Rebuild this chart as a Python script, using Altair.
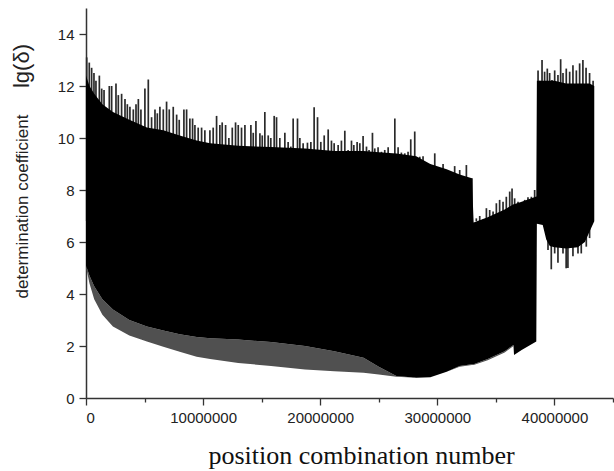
import altair as alt
import pandas as pd

# ---- envelope of the dense trace (x in millions) ----
env_x = [0.0, 0.3, 0.7, 1.4, 2.3, 3.7, 5.2, 6.6, 8.0, 9.45, 10.6, 13.0, 15.8, 18.7, 21.2,
         23.7, 25.0, 26.5, 28.2, 29.4, 30.8, 31.9, 32.95, 33.1, 34.3, 35.75, 36.5, 36.55,
         37.2, 38.45, 38.5, 39.0, 39.3, 39.6, 40.0, 41.0, 42.0, 42.6, 43.0, 43.4]
solid_top = [12.4, 12.0, 11.7, 11.3, 11.0, 10.7, 10.4, 10.3, 10.1, 9.9, 9.8, 9.7, 9.65, 9.6, 9.5,
             9.5, 9.45, 9.4, 9.3, 9.0, 8.8, 8.6, 8.45, 6.75, 6.95, 7.25, 7.45, 7.45,
             7.55, 7.75, 12.2, 12.2, 12.2, 12.2, 12.2, 12.1, 12.1, 12.1, 12.1, 12.0]
solid_bot = [5.1, 4.7, 4.3, 3.8, 3.4, 3.0, 2.75, 2.6, 2.45, 2.35, 2.3, 2.25, 2.15, 2.0, 1.8,
             1.55, 1.2, 0.85, 0.78, 0.8, 1.01, 1.23, 1.3, 1.3, 1.5, 1.8, 2.04, 1.65,
             1.85, 2.17, 6.7, 6.65, 6.1, 5.85, 5.8, 5.75, 5.8, 6.0, 6.4, 6.8]
low_env = [5.05, 4.4, 3.8, 3.2, 2.75, 2.4, 2.17, 1.97, 1.78, 1.59, 1.5, 1.35, 1.23, 1.1, 1.03,
           0.97, 0.9, 0.82, 0.78, 0.8, 1.01, 1.2, 1.27, 1.27, 1.45, 1.75, 2.0, 1.65,
           1.85, 2.17, 6.7, 6.65, 6.1, 5.85, 5.8, 5.75, 5.8, 6.0, 6.4, 6.8]

# ---- upper spikes (x in millions, peak value) ----
spike_x = [0.06, 0.28, 0.48, 0.68, 0.85, 1.14, 1.34, 1.54, 1.99, 2.19, 2.56, 2.76, 3.04, 3.33,
           3.53, 3.75, 4.04, 4.27, 4.47, 4.69, 5.03, 5.32, 5.60, 5.89, 6.09, 6.31, 6.60, 6.88,
           7.11, 7.45, 7.74, 7.96, 8.36, 8.59, 8.87, 9.10, 9.30, 9.58, 9.87, 10.15,
           10.58, 10.86, 11.15, 11.43, 11.63, 11.92, 12.20, 12.49, 12.77, 13.00, 13.28, 13.57,
           14.08, 14.28, 14.51, 14.85, 15.05, 15.27, 15.56, 15.78, 16.07, 16.27, 16.55, 16.98,
           17.26, 17.49, 17.69, 18.06, 18.26, 18.54, 18.91, 19.20, 19.48, 19.77, 20.05, 20.34,
           20.68, 20.96, 21.19,
           21.53, 21.81, 22.10, 22.38, 22.67, 22.87, 23.15, 23.38, 23.66, 23.95, 24.17, 24.46,
           24.66, 24.94, 25.23, 25.51, 25.80, 26.08, 26.37, 26.65, 26.93, 27.22, 27.50, 27.73,
           28.07, 28.30, 28.50, 28.78, 29.07, 29.35, 29.78, 30.06, 30.49, 30.77, 31.06, 31.48,
           31.77, 31.91, 32.20, 32.48, 32.76, 32.96,
           33.33, 33.62, 33.90, 34.19, 34.47, 34.76, 35.04, 35.32, 35.61, 35.89, 36.18, 36.38,
           36.60, 36.89, 37.17, 37.46, 37.74, 38.03, 38.31,
           38.60, 38.74, 38.94, 39.16, 39.39, 39.59, 39.79, 40.02, 40.30, 40.53, 40.73, 41.01,
           41.30, 41.58, 41.87, 42.15, 42.43, 42.70, 43.00, 43.30]
spike_top = [13.1, 12.9, 12.7, 12.5, 12.2, 12.4, 11.9, 11.85, 12.0, 12.0, 12.1, 11.65, 11.7, 11.5,
             11.3, 11.2, 11.1, 11.3, 11.5, 11.1, 11.9, 12.25, 10.8, 11.1, 10.95, 11.2, 11.1, 11.4,
             11.1, 11.2, 10.9, 10.7, 11.1, 11.1, 10.75, 10.75, 10.5, 10.4, 10.4, 10.3,
             10.3, 10.4, 10.85, 10.5, 10.6, 10.5, 10.0, 10.4, 10.6, 10.5, 10.4, 10.5,
             10.5, 10.2, 10.65, 10.18, 10.1, 11.0, 10.1, 10.0, 10.85, 10.8, 10.0, 10.2,
             9.85, 9.67, 10.75, 10.75, 10.0, 9.8, 9.82, 9.85, 11.18, 10.8, 9.85, 10.1,
             10.33, 9.9, 9.8,
             9.73, 9.9, 10.28, 9.54, 9.9, 9.73, 9.85, 9.8, 10.08, 9.67, 9.54, 10.2,
             9.6, 9.64, 9.47, 9.54, 9.64, 9.28, 10.75, 9.64, 9.44, 9.41, 9.47, 9.95,
             10.25, 9.15, 9.28, 9.3, 8.9, 9.0, 9.41, 8.77, 9.0, 8.58, 8.64, 8.92,
             8.58, 8.77, 8.51, 8.96, 8.38, 8.45,
             6.91, 7.0, 6.87, 7.3, 7.23, 7.17, 7.49, 7.62, 7.55, 7.74, 7.94, 8.06,
             7.68, 7.55, 7.49, 7.62, 7.72, 7.74, 8.0,
             12.6, 12.2, 13.0, 12.55, 12.67, 12.5, 12.23, 12.6, 12.42, 13.03, 12.5, 12.67,
             12.55, 12.8, 12.6, 12.87, 13.0, 12.7, 12.5, 12.2]

# ---- lower spikes of the last block ----
low_spike_x = [39.45, 39.73, 40.02, 40.30, 40.73, 41.00, 41.15, 41.58, 42.01, 42.29, 42.72, 43.00]
low_spike_val = [5.69, 4.95, 5.56, 5.2, 5.56, 4.99, 5.0, 5.45, 5.56, 5.56, 5.82, 6.15]

# ---- axis ticks ----
x_ticks = [0, 5000000, 10000000, 15000000, 20000000, 25000000, 30000000, 35000000,
           40000000, 45000000]
y_ticks = list(range(0, 16))

M = 1_000_000
env_df = pd.DataFrame({"x": [v * M for v in env_x], "top": solid_top,
                       "bot": solid_bot, "low": low_env})
spk_df = pd.DataFrame({"x": [v * M for v in spike_x], "top": spike_top})
spk_df["base"] = 6.8
lspk_df = pd.DataFrame({"x": [v * M for v in low_spike_x], "low": low_spike_val})
lspk_df["base"] = 7.0

xscale = alt.Scale(domain=[0, 45000000], nice=False, zero=False)
yscale = alt.Scale(domain=[0, 15], nice=False)

xaxis = alt.Axis(
    values=x_ticks, format="d",
    labelExpr="datum.value % 10000000 == 0 ? datum.label : ''",
    tickSize={"condition": {"test": "datum.value % 10000000 == 0", "value": 7}, "value": 4},
    title="position combination number",
    titleFont="Liberation Serif", titleFontSize=26, titleFontWeight="normal",
    titleColor="#111", titleX=275, titleY=65, titleBaseline="alphabetic", titleAlign="center",
    labelPadding=5,
)
yaxis = alt.Axis(
    values=y_ticks, format="d",
    labelExpr="datum.value % 2 == 0 ? datum.label : ''",
    tickSize={"condition": {"test": "datum.value % 2 == 0", "value": 7}, "value": 4},
    title="determination coefficient",
    titleFont="Liberation Sans", titleFontSize=17, titleFontWeight="normal",
    titleColor="#222", titleX=-64, titleY=198, titleAlign="center", titleBaseline="middle",
    titleAngle=270, labelPadding=5,
)

spikes = alt.Chart(spk_df).mark_rule(color="#2a2a2a", strokeWidth=1.7).encode(
    x=alt.X("x:Q", scale=xscale, axis=xaxis),
    y=alt.Y("top:Q", scale=yscale, axis=yaxis),
    y2="base:Q",
)
lspikes = alt.Chart(lspk_df).mark_rule(color="#2a2a2a", strokeWidth=1.7).encode(
    x="x:Q", y="low:Q", y2="base:Q",
)
base = alt.Chart(env_df)
fringe = base.mark_area(color="#505050").encode(
    x="x:Q", y="low:Q", y2="bot:Q",
)
core = base.mark_area(color="#000000").encode(
    x="x:Q", y="bot:Q", y2="top:Q",
)
lg = alt.Chart(pd.DataFrame({"t": ["lg(δ)"]})).mark_text(
    angle=270, font="Liberation Sans", fontSize=22, color="#222", align="center",
    baseline="middle",
).encode(text="t:N", x=alt.value(-64), y=alt.value(58))

chart = alt.layer(spikes, lspikes, fringe, core, lg).properties(
    width=527, height=390,
    padding={"left": 86, "top": 8, "right": 1, "bottom": 73},
    autosize=alt.AutoSizeParams(type="none"),
).configure_view(stroke=None).configure_axis(
    grid=False, domainColor="#333", domainWidth=1.5, tickColor="#333", tickWidth=1.3,
    labelFont="Liberation Sans", labelFontSize=15, labelColor="#222",
)

chart.save("out.html", embed_options={"renderer": "svg", "actions": False})
